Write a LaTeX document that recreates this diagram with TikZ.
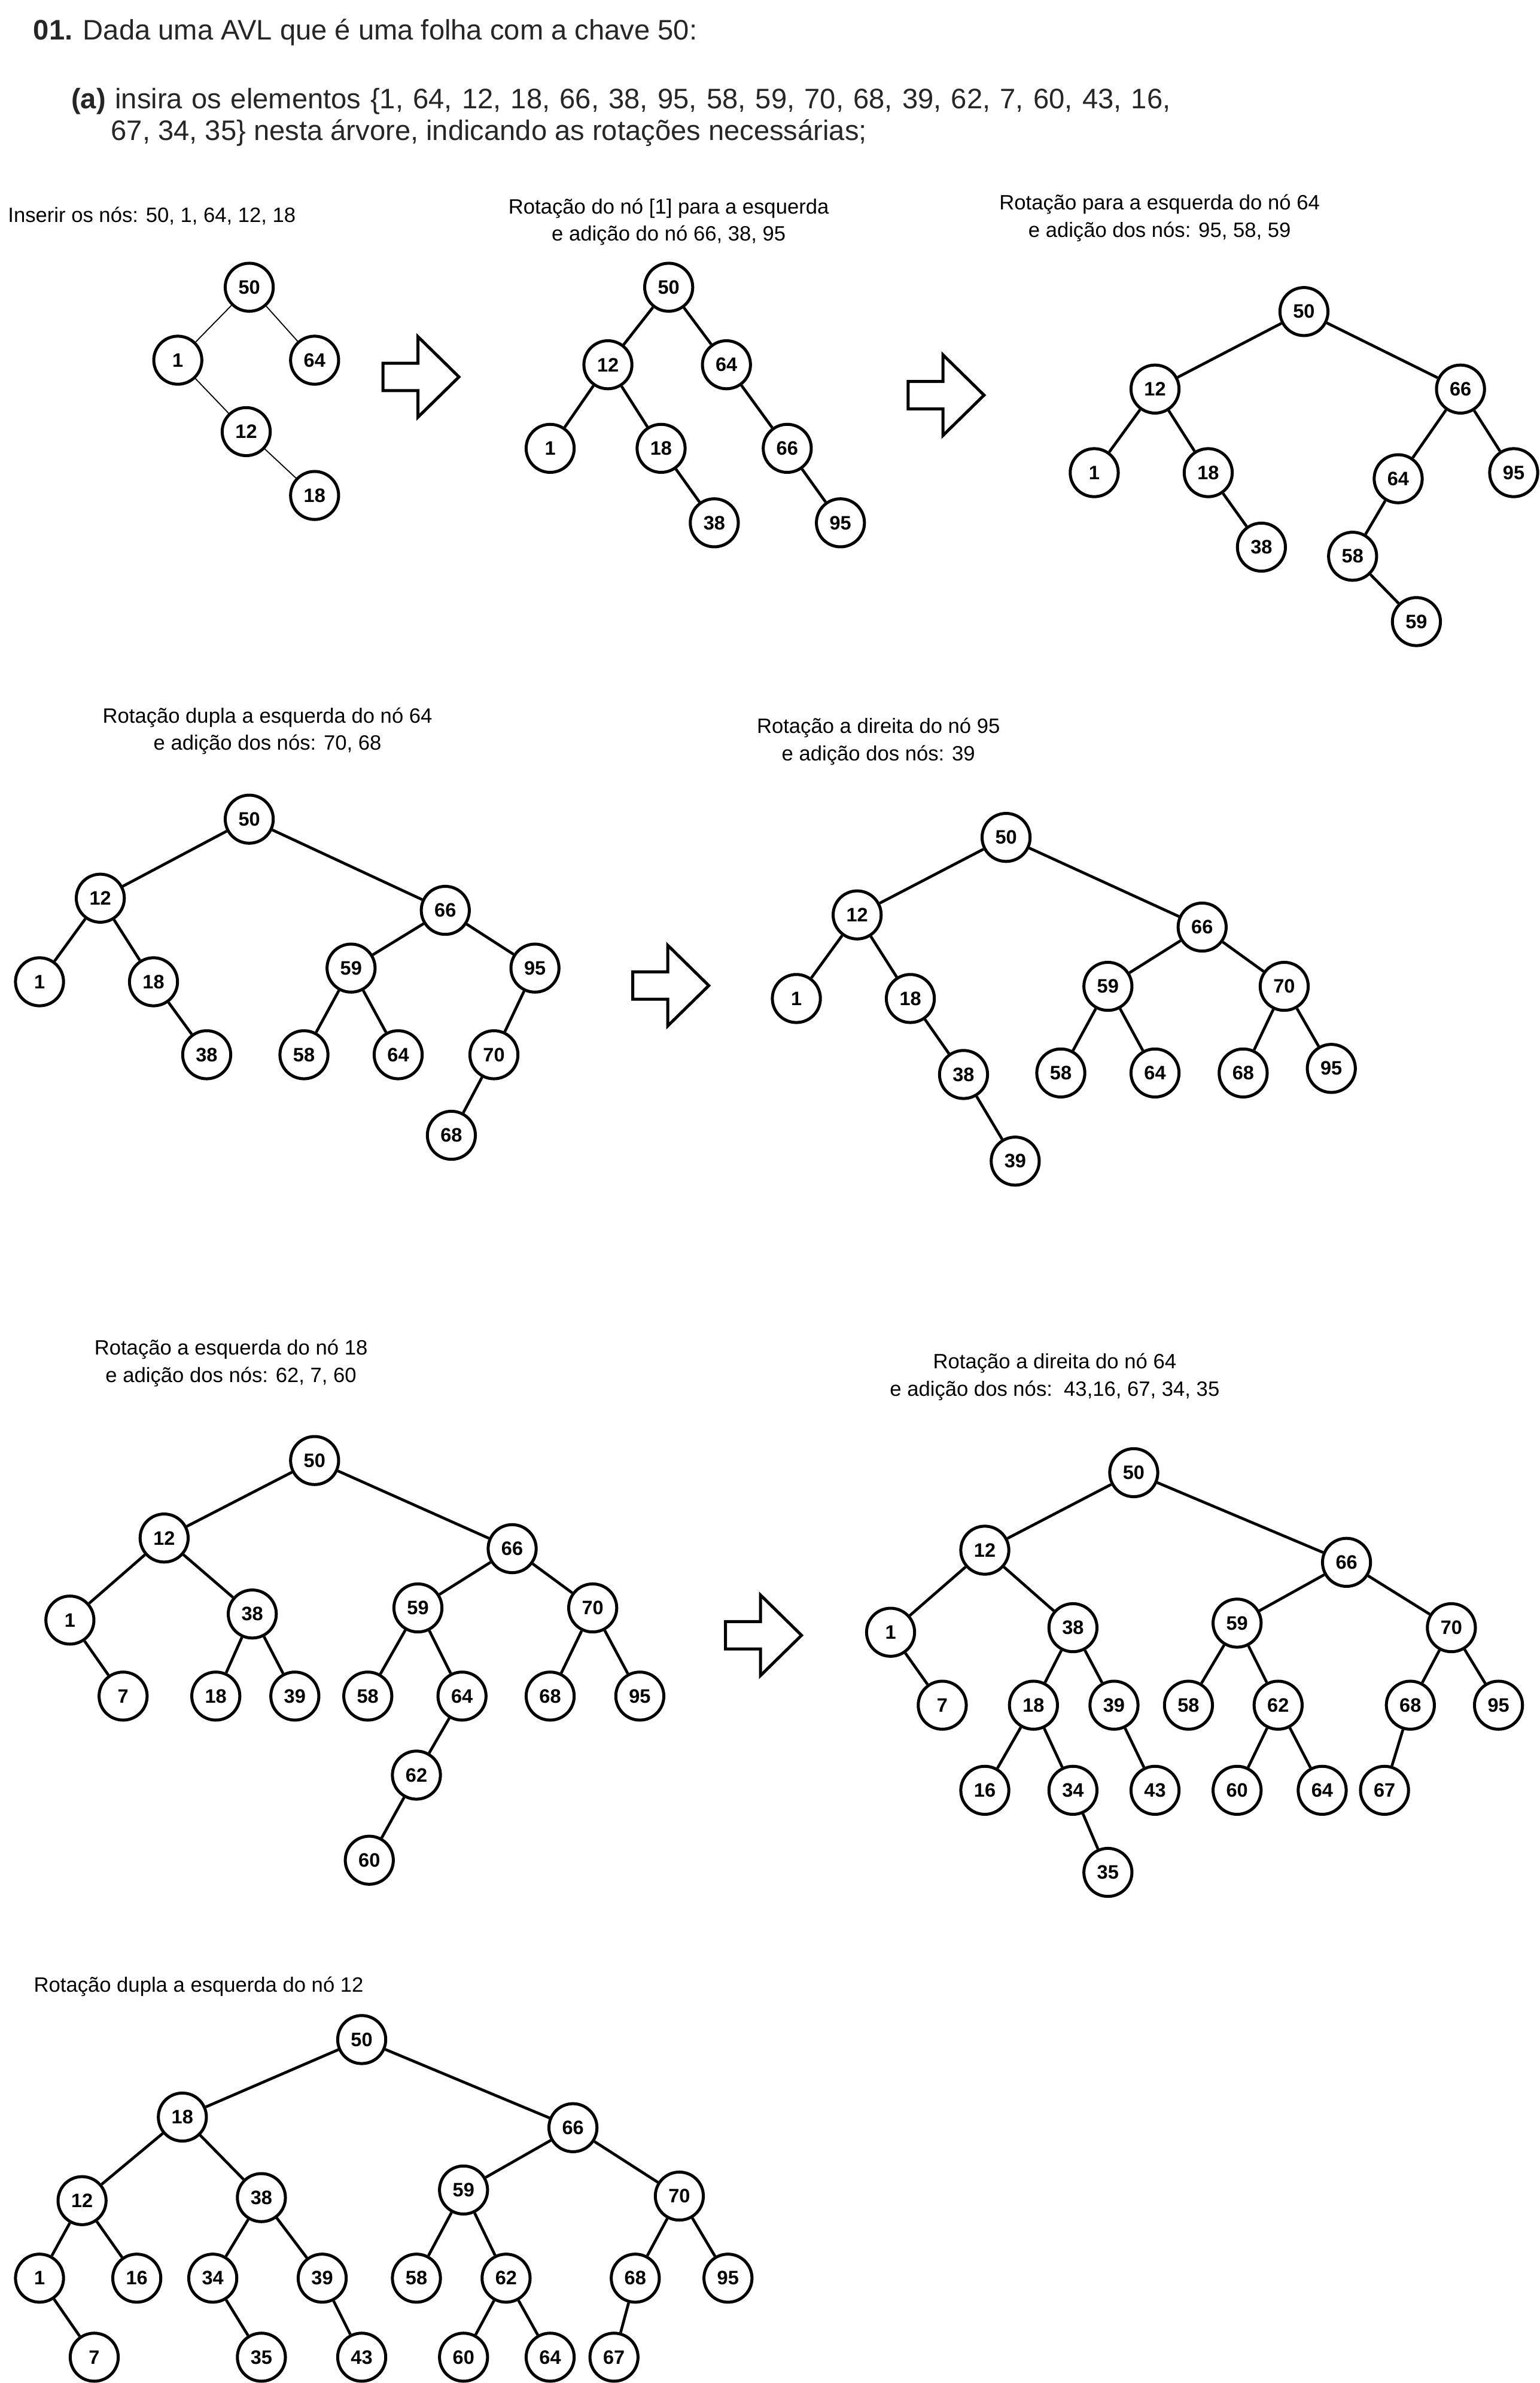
\documentclass[tikz,border=0pt]{standalone}
\usepackage{fontspec}
\setmainfont{Liberation Sans}
\usepackage{tikz}
\usetikzlibrary{positioning}

\tikzset{
  blockarrow/.pic={
    \draw[line width=1.4pt, line join=miter] (0,-9) -- (23,-9) -- (23,-26.5) -- (50,0) -- (23,26.5) -- (23,9) -- (0,9) -- cycle;
  }
}

\begin{document}
\begin{tikzpicture}[
  x=0.025cm, y=-0.025cm,
  key/.style={circle, draw=black, line width=1.4pt, fill=white, minimum size=0.79cm, inner sep=0pt,
    font=\fontsize{9.1}{11}\selectfont\bfseries},
  edge/.style={line width=1.3pt},
  thinedge/.style={line width=0.5pt},
  caption/.style={align=center, inner sep=0pt, font=\fontsize{9.7}{12.8}\selectfont},
  header/.style={anchor=base west, inner sep=0pt, text=black!85, font=\fontsize{13.2}{16}\selectfont}
]
\useasboundingbox (0,0) rectangle (1013,1568);

% enunciado
\node[header] (q1) at (21.7,26.3) {\textbf{01.} Dada uma AVL que é uma folha com a chave 50:};
\node[header] (qa) at (46.6,71.5) {\hbox to 18.08cm{\textbf{(a)} insira os elementos \{1, 64, 12, 18, 66, 38, 95, 58, 59, 70, 68, 39, 62, 7, 60, 43, 16,}};
\node[header] (qb) at (72.8,92.5) {67, 34, 35\} nesta árvore, indicando as rotações necessárias;};

% arvore 1
\node[caption, anchor=west] (capA) at (5,142) {Inserir os nós: 50, 1, 64, 12, 18};
\node[key] (a50) at (164,189) {50};
\node[key] (a1) at (117,237) {1};
\node[key] (a64) at (207,237) {64};
\node[key] (a12) at (162,284) {12};
\node[key] (a18) at (207,326) {18};
\draw[thinedge] (a50) -- (a1) (a50) -- (a64) (a1) -- (a12) (a12) -- (a18);

\pic at (252,248) {blockarrow};

% arvore 2
\node[caption] (capB) at (440,146) {Rotação do nó [1] para a esquerda\\e adição do nó 66, 38, 95};
\node[key] (b50) at (440,189) {50};
\node[key] (b12) at (400,240) {12};
\node[key] (b64) at (478,240) {64};
\node[key] (b1) at (362,295) {1};
\node[key] (b18) at (435,295) {18};
\node[key] (b66) at (518,295) {66};
\node[key] (b38) at (470,344) {38};
\node[key] (b95) at (553,344) {95};
\draw[edge] (b50) -- (b12) (b50) -- (b64) (b12) -- (b1) (b12) -- (b18)
  (b18) -- (b38) (b64) -- (b66) (b66) -- (b95);

\pic at (597.5,260) {blockarrow};

% arvore 3
\node[caption] (capC) at (763,143.5) {Rotação para a esquerda do nó 64\\e adição dos nós: 95, 58, 59};
\node[key] (c50) at (858,205) {50};
\node[key] (c12) at (760,256) {12};
\node[key] (c66) at (961,256) {66};
\node[key] (c1) at (720,311) {1};
\node[key] (c18) at (795,311) {18};
\node[key] (c64) at (920,315) {64};
\node[key] (c95) at (996,311) {95};
\node[key] (c38) at (830,360) {38};
\node[key] (c58) at (890,366) {58};
\node[key] (c59) at (932,409) {59};
\draw[edge] (c50) -- (c12) (c50) -- (c66) (c12) -- (c1) (c12) -- (c18) (c18) -- (c38)
  (c66) -- (c64) (c66) -- (c95) (c64) -- (c58) (c58) -- (c59);

% arvore 4
\node[caption] (capD) at (176,481) {Rotação dupla a esquerda do nó 64\\e adição dos nós: 70, 68};
\node[key] (d50) at (164,539) {50};
\node[key] (d12) at (66,591) {12};
\node[key] (d66) at (293,599) {66};
\node[key] (d1) at (26,646) {1};
\node[key] (d18) at (101,646) {18};
\node[key] (d59) at (231,637) {59};
\node[key] (d95) at (352,637) {95};
\node[key] (d38) at (136,694) {38};
\node[key] (d58) at (200,694) {58};
\node[key] (d64) at (262,694) {64};
\node[key] (d70) at (325,694) {70};
\node[key] (d68) at (297,747) {68};
\draw[edge] (d50) -- (d12) (d50) -- (d66) (d12) -- (d1) (d12) -- (d18) (d18) -- (d38)
  (d66) -- (d59) (d66) -- (d95) (d59) -- (d58) (d59) -- (d64) (d95) -- (d70) (d70) -- (d68);

\pic at (416.4,648.5) {blockarrow};

% arvore 5
\node[caption] (capE) at (578,488) {Rotação a direita do nó 95\\e adição dos nós: 39};
\node[key] (e50) at (662,551) {50};
\node[key] (e12) at (564,602) {12};
\node[key] (e66) at (791,610) {66};
\node[key] (e1) at (524,657) {1};
\node[key] (e18) at (599,657) {18};
\node[key] (e59) at (729,649) {59};
\node[key] (e70) at (845,649) {70};
\node[key] (e38) at (634,707) {38};
\node[key] (e58) at (698,706) {58};
\node[key] (e64) at (760,706) {64};
\node[key] (e68) at (818,706) {68};
\node[key] (e95) at (876,703) {95};
\node[key] (e39) at (668,764) {39};
\draw[edge] (e50) -- (e12) (e50) -- (e66) (e12) -- (e1) (e12) -- (e18) (e18) -- (e38) (e38) -- (e39)
  (e66) -- (e59) (e66) -- (e70) (e59) -- (e58) (e59) -- (e64) (e70) -- (e68) (e70) -- (e95);

% arvore 6
\node[caption] (capF) at (152,897) {Rotação a esquerda do nó 18\\e adição dos nós: 62, 7, 60};
\node[key] (f50) at (207,961) {50};
\node[key] (f12) at (108,1012) {12};
\node[key] (f66) at (337,1019) {66};
\node[key] (f1) at (46,1066) {1};
\node[key] (f38) at (166,1062) {38};
\node[key] (f59) at (275,1058) {59};
\node[key] (f70) at (390,1058) {70};
\node[key] (f7) at (81,1116) {7};
\node[key] (f18) at (142,1116) {18};
\node[key] (f39) at (194,1116) {39};
\node[key] (f58) at (242,1116) {58};
\node[key] (f64) at (304,1116) {64};
\node[key] (f68) at (362,1116) {68};
\node[key] (f95) at (421,1116) {95};
\node[key] (f62) at (274,1168) {62};
\node[key] (f60) at (243,1224) {60};
\draw[edge] (f50) -- (f12) (f50) -- (f66) (f12) -- (f1) (f12) -- (f38) (f1) -- (f7)
  (f38) -- (f18) (f38) -- (f39) (f66) -- (f59) (f66) -- (f70) (f59) -- (f58) (f59) -- (f64)
  (f64) -- (f62) (f62) -- (f60) (f70) -- (f68) (f70) -- (f95);

\pic at (477.4,1076) {blockarrow};

% arvore 7
\node[caption] (capG) at (694,906) {Rotação a direita do nó 64\\e adição dos nós:\ \ 43,16, 67, 34, 35};
\node[key] (g50) at (746,969) {50};
\node[key] (g12) at (648,1020) {12};
\node[key] (g66) at (886,1028) {66};
\node[key] (g1) at (586,1074) {1};
\node[key] (g38) at (706,1071) {38};
\node[key] (g59) at (814,1068) {59};
\node[key] (g70) at (955,1071) {70};
\node[key] (g7) at (620,1122) {7};
\node[key] (g18) at (680,1122) {18};
\node[key] (g39) at (733,1122) {39};
\node[key] (g58) at (782,1122) {58};
\node[key] (g62) at (841,1122) {62};
\node[key] (g68) at (928,1122) {68};
\node[key] (g95) at (986,1122) {95};
\node[key] (g16) at (648,1178) {16};
\node[key] (g34) at (706,1178) {34};
\node[key] (g43) at (760,1178) {43};
\node[key] (g60) at (814,1178) {60};
\node[key] (g64) at (870,1178) {64};
\node[key] (g67) at (911,1178) {67};
\node[key] (g35) at (729,1232) {35};
\draw[edge] (g50) -- (g12) (g50) -- (g66) (g12) -- (g1) (g12) -- (g38) (g1) -- (g7)
  (g38) -- (g18) (g38) -- (g39) (g18) -- (g16) (g18) -- (g34) (g34) -- (g35) (g39) -- (g43)
  (g66) -- (g59) (g66) -- (g70) (g59) -- (g58) (g59) -- (g62) (g62) -- (g60) (g62) -- (g64)
  (g70) -- (g68) (g70) -- (g95) (g68) -- (g67);

% arvore 8
\node[caption, anchor=west] (capH) at (22,1307) {Rotação dupla a esquerda do nó 12};
\node[key] (h50) at (238,1342) {50};
\node[key] (h18) at (120,1393) {18};
\node[key] (h66) at (377,1400) {66};
\node[key] (h12) at (54,1448) {12};
\node[key] (h38) at (172,1446) {38};
\node[key] (h59) at (305,1441) {59};
\node[key] (h70) at (447,1445) {70};
\node[key] (h1) at (26,1499) {1};
\node[key] (h16) at (90,1499) {16};
\node[key] (h34) at (140,1499) {34};
\node[key] (h39) at (212,1499) {39};
\node[key] (h58) at (274,1499) {58};
\node[key] (h62) at (333,1499) {62};
\node[key] (h68) at (418,1499) {68};
\node[key] (h95) at (479,1499) {95};
\node[key] (h7) at (62,1551) {7};
\node[key] (h35) at (172,1551) {35};
\node[key] (h43) at (238,1551) {43};
\node[key] (h60) at (305,1551) {60};
\node[key] (h64) at (362,1551) {64};
\node[key] (h67) at (404,1551) {67};
\draw[edge] (h50) -- (h18) (h50) -- (h66) (h18) -- (h12) (h18) -- (h38) (h12) -- (h1) (h12) -- (h16)
  (h1) -- (h7) (h38) -- (h34) (h38) -- (h39) (h34) -- (h35) (h39) -- (h43)
  (h66) -- (h59) (h66) -- (h70) (h59) -- (h58) (h59) -- (h62) (h62) -- (h60) (h62) -- (h64)
  (h70) -- (h68) (h70) -- (h95) (h68) -- (h67);
\end{tikzpicture}
\end{document}
